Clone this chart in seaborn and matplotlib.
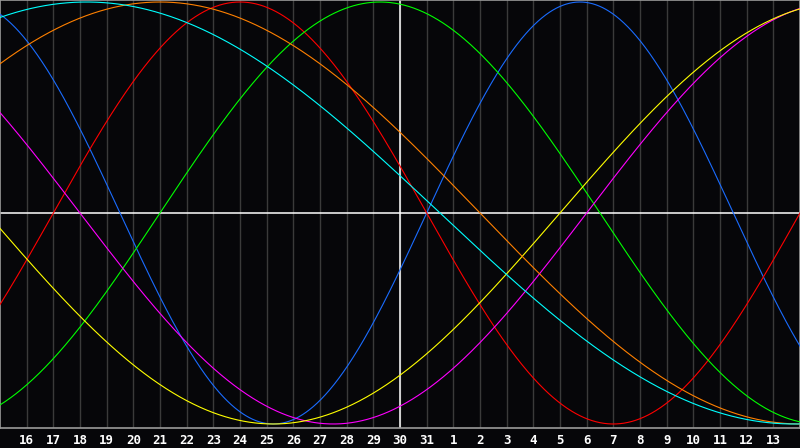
import numpy as np
import pandas as pd
import matplotlib
matplotlib.use("Agg")
import matplotlib.pyplot as plt
import seaborn as sns

# biorhythm cycles (days) and their line colours
cycles = ["physical", "emotional", "intellectual", "intuitive", "aesthetic", "awareness", "spiritual"]
periods = [23, 28, 33, 38, 43, 48, 53]
colors = ["#1a6cff", "#ff0000", "#00ff00", "#ff00ff", "#ffff00", "#ff8000", "#00ffff"]

# days lived at the left edge of the chart (day 15), today is the 30th
days_at_start = 44742
today_index = 15
day_labels = [16, 17, 18, 19, 20, 21, 22, 23, 24, 25, 26, 27, 28, 29, 30, 31,
              1, 2, 3, 4, 5, 6, 7, 8, 9, 10, 11, 12, 13]
n_days = 30

# build long table of curve values
t = np.linspace(0, n_days, 1201)
rows = []
for name, p in zip(cycles, periods):
    v = np.sin(2 * np.pi * (days_at_start + t) / p)
    rows.append(pd.DataFrame({"day": t, "value": v, "cycle": name}))
df = pd.concat(rows, ignore_index=True)

bg = "#060609"
fig = plt.figure(figsize=(8, 4.48), dpi=100, facecolor=bg)
ax = fig.add_axes([0, 20 / 448, 1, 428 / 448])
ax.set_facecolor(bg)

# day grid lines
for k in range(1, n_days):
    ax.axvline(k, color="#3a3a3a", lw=1.0, zorder=1)

sns.lineplot(data=df, x="day", y="value", hue="cycle", palette=dict(zip(cycles, colors)),
             linewidth=0.8, legend=False, ax=ax, zorder=3, sort=False)

# today + zero line
ax.axvline(today_index, color="white", lw=1.1, zorder=2)
ax.axhline(0, color="white", lw=1.1, zorder=2)

ax.set_xlim(0, n_days)
ax.set_ylim(-1.019, 1.0095)
ax.set_xticks(range(1, n_days))
ax.set_xticklabels([str(d) for d in day_labels], color="white", fontsize=9,
                   fontweight="bold", family="DejaVu Sans Mono")
ax.tick_params(axis="x", length=0, pad=4)
ax.set_yticks([])
ax.set_xlabel("")
ax.set_ylabel("")
for s in ax.spines.values():
    s.set_color("#9a9a9a")
    s.set_linewidth(1.2)

fig.savefig("out.png", dpi=100, facecolor=bg)
